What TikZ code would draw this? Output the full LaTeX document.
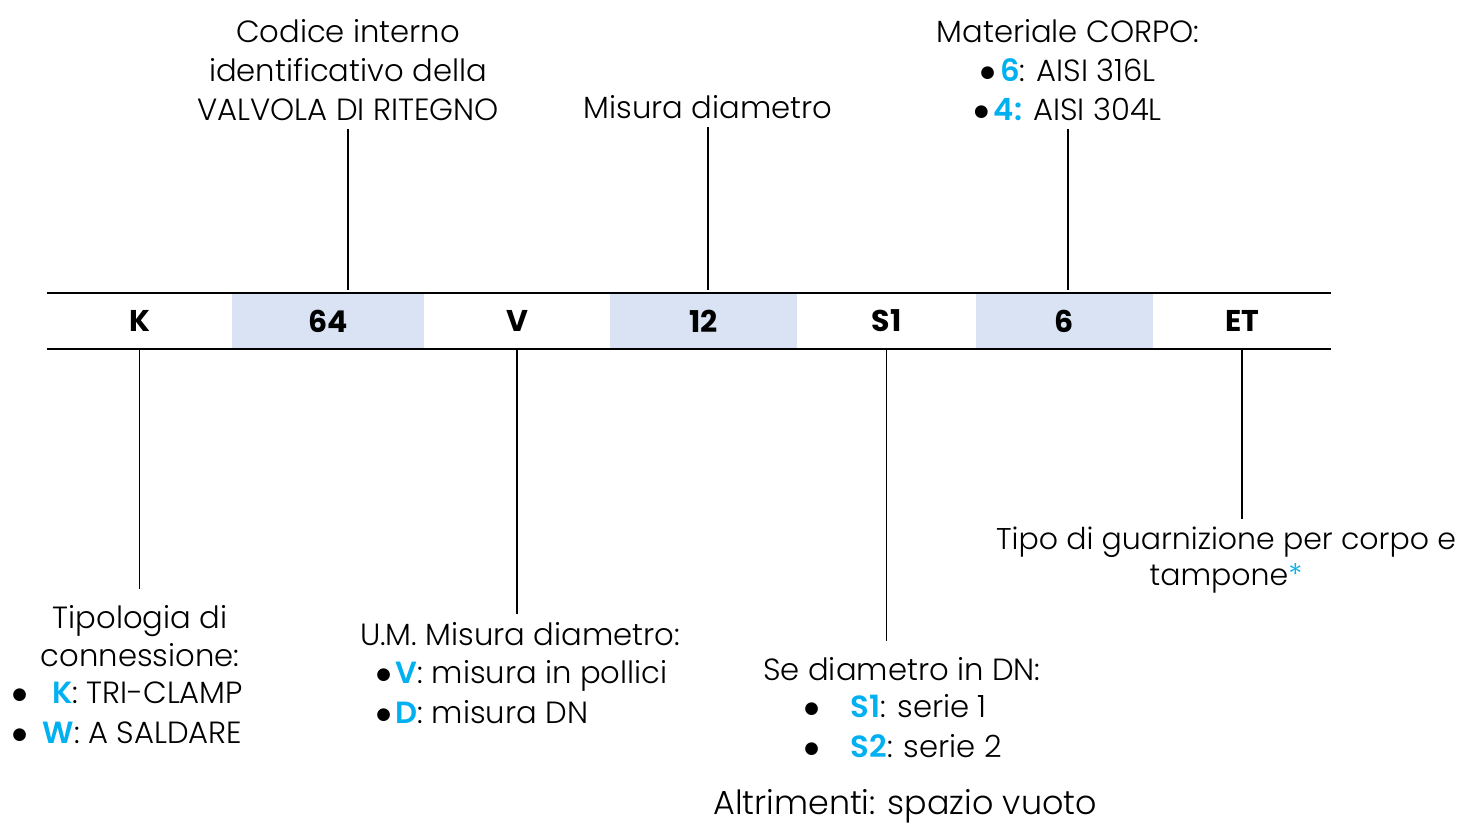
\documentclass[tikz,border=0pt]{standalone}
\usepackage{fontspec}
\setmainfont{Poppins}[UprightFont=* Light, BoldFont=* SemiBold]
\newfontfamily\cellfont{Poppins}[UprightFont=* Bold]
\newfontfamily\symfont{DejaVu Sans}
\usetikzlibrary{positioning}
\definecolor{cellBlue}{HTML}{DAE3F3}
\definecolor{keyBlue}{HTML}{00B0F0}
\tikzstyle{codeCell}=[minimum height=42pt, inner sep=0pt, font=\cellfont\fontsize{22.5}{26}\selectfont]
\tikzstyle{descText}=[align=center, inner sep=0pt, font=\fontsize{23}{29}\selectfont]
\tikzstyle{listText}=[align=left, anchor=west, inner sep=0pt, font=\fontsize{23}{30}\selectfont]
\tikzstyle{leader}=[line width=0.8pt]
\newcommand{\kw}[1]{\textcolor{keyBlue}{\textbf{#1}}}
\newcommand{\blt}{\raisebox{3pt}{\symfont\fontsize{12.5}{13}\selectfont ●}}

\begin{document}
\begin{tikzpicture}[x=0.75pt, y=-0.75pt]
	\useasboundingbox (0, 0) rectangle (1459, 824);

	\node[codeCell, minimum width=138.75pt] (cK) at (139.5, 321) {K};
	\node[codeCell, minimum width=144pt, fill=cellBlue] (c64) at (328, 321) {64};
	\node[codeCell, minimum width=139.5pt] (cV) at (517, 321) {V};
	\node[codeCell, minimum width=140.25pt, fill=cellBlue] (c12) at (703.5, 321) {12};
	\node[codeCell, minimum width=134.25pt] (cS) at (886.5, 321) {S1};
	\node[codeCell, minimum width=132.75pt, fill=cellBlue] (c6) at (1064.5, 321) {6};
	\node[codeCell, minimum width=133.5pt] (cET) at (1242, 321) {ET};

	\draw[line width=1.5pt] (cK.north west) -- (cET.north east);
	\draw[line width=1.5pt] (cK.south west) -- (cET.south east);

	\node[descText] (tCode) at (348, 70) {Codice interno\\identificativo della\\VALVOLA DI RITEGNO};
	\node[descText] (tSize) at (708, 107) {Misura diametro};
	\node[descText] (tBody) at (1068, 70) {Materiale CORPO:\\\blt\,\kw{6}: AISI 316L\\\blt\,\kw{4:} AISI 304L};

	\node[descText] (tConn) at (140, 636) {Tipologia di\\connessione:};
	\node[listText] (tConnList) at (12, 713) {\blt\hspace{19pt}\kw{K}: TRI-CLAMP\\\blt\hspace{12pt}\kw{W}: A SALDARE};

	\node[descText] (tUnit) at (520, 634) {U.M. Misura diametro:};
	\node[listText] (tUnitList) at (376, 692) {\blt\,\kw{V}: misura in pollici\\\blt\,\kw{D}: misura DN};

	\node[descText, anchor=west] (tSer) at (763, 669) {Se diametro in DN:};
	\node[listText] (tSerList) at (804, 726) {\blt\hspace{24pt}\kw{S1}: serie 1\\\blt\hspace{24pt}\kw{S2}: serie 2};
	\node[descText, anchor=west, font=\fontsize{25}{29}\selectfont] (tElse) at (713, 806) {Altrimenti: spazio vuoto};

	\node[descText, font=\fontsize{22.5}{27}\selectfont] (tSeal) at (1226, 560) {Tipo di guarnizione per corpo e\\tampone\textcolor{keyBlue}{*}};

	\draw[leader] ([yshift=-6pt]tCode.south) -- ([yshift=2pt]tCode.south |- c64.north);
	\draw[leader] ([yshift=-6pt]tSize.south) -- ([yshift=2pt]tSize.south |- c12.north);
	\draw[leader] ([yshift=-6pt]tBody.south) -- ([yshift=2pt]tBody.south |- c6.north);

	\draw[leader] (cK.south) -- ([yshift=12pt]cK.south |- tConn.north);
	\draw[leader] (cV.south) -- ([yshift=6pt]cV.south |- tUnit.north);
	\draw[leader] (cS.south) -- ([yshift=12pt]cS.south |- tSer.north);
	\draw[leader] (cET.south) -- ([yshift=6pt]cET.south |- tSeal.north);
\end{tikzpicture}
\end{document}
